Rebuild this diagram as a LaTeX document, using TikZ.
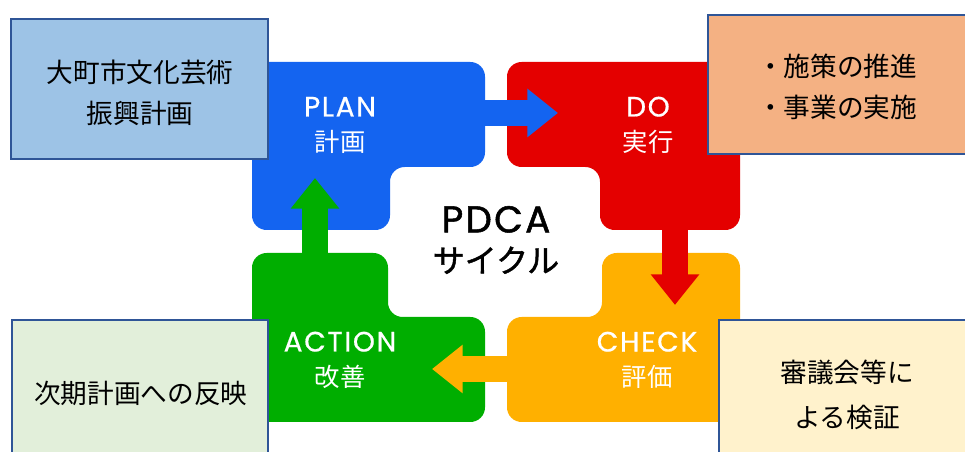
\documentclass[tikz,border=0pt]{standalone}
\usepackage{fontspec}
\setmainfont{Noto Sans CJK JP}
\newfontfamily\stagefont[LetterSpace=6,FakeBold=0.6]{Poppins}
\newfontfamily\cyclefont[LetterSpace=6,FakeBold=1.4]{Poppins}
\newfontfamily\cyclekana[FakeBold=1.4]{Noto Sans CJK JP}
\usepackage{tikz}
\usetikzlibrary{arrows.meta}

\definecolor{planblue}{RGB}{20,100,240}
\definecolor{dored}{RGB}{228,0,0}
\definecolor{checkorange}{RGB}{255,176,0}
\definecolor{actgreen}{RGB}{0,174,0}
\definecolor{noteedge}{RGB}{47,85,151}

\tikzset{
  stage/.style={rounded corners=11pt},
  stagetext/.style={text=white,align=center,font=\fontsize{19}{26}\selectfont},
  flow/.style={line width=20pt,-{Triangle[length=23pt,width=35pt]}},
  notebox/.style={draw=noteedge,line width=1.5pt},
  notetext/.style={align=center,font=\fontsize{20}{31}\selectfont}
}
\newcommand\stagename[1]{{\stagefont\fontsize{21}{26}\selectfont #1}}

\begin{document}
\begin{tikzpicture}[x=0.75pt,y=-0.75pt]
      % pixel grid of the reference, y downwards
      \clip (0,0) rectangle (965,452);
      \fill[white] (0,0) rectangle (965,452);
      % the four stages
      \fill[stage,planblue] (252,62)--(485,62)--(485,167)--(390,167)--(390,230)--(252,230)--cycle;
      \fill[stage,dored] (507,62)--(740,62)--(740,230)--(600,230)--(600,167)--(507,167)--cycle;
      \fill[stage,actgreen] (252,253)--(388,253)--(388,317)--(485,317)--(485,422)--(252,422)--cycle;
      \fill[stage,checkorange] (602,253)--(740,253)--(740,422)--(507,422)--(507,317)--(602,317)--cycle;
      \node[stagetext] (plan) at (340,125) {\stagename{PLAN}\\計画};
      \node[stagetext] (do) at (648,125) {\stagename{DO}\\実行};
      \node[stagetext] (check) at (647,360) {\stagename{CHECK}\\評価};
      \node[stagetext] (action) at (340,360) {\stagename{ACTION}\\改善};
      \node[align=center,font=\fontsize{24}{30}\selectfont\cyclekana] (cycle) at (496,240) {{\cyclefont\fontsize{28}{30}\selectfont PDCA}\\サイクル};
      % arrows between the stages
      \coordinate (plan-out) at (478,113);
      \coordinate (do-in) at (558,113);
      \coordinate (do-out) at (675,222);
      \coordinate (check-in) at (675,305);
      \coordinate (check-out) at (514,369);
      \coordinate (action-in) at (432,369);
      \coordinate (action-out) at (315,260);
      \coordinate (plan-in) at (315,178);
      \draw[flow,planblue] (plan-out) -- (do-in);
      \draw[flow,dored] (do-out) -- (check-in);
      \draw[flow,checkorange] (check-out) -- (action-in);
      \draw[flow,actgreen] (action-out) -- (plan-in);
      % notes
      \filldraw[notebox,fill={rgb,255:red,157;green,195;blue,230}] (11,19) rectangle (268,159);
      \filldraw[notebox,fill={rgb,255:red,244;green,177;blue,131}] (708,15) rectangle (975,154);
      \filldraw[notebox,fill={rgb,255:red,226;green,239;blue,218}] (12,320) rectangle (268,470);
      \filldraw[notebox,fill={rgb,255:red,255;green,242;blue,204}] (719,320) rectangle (975,470);
      \node[notetext] (plan-note) at (140,93) {大町市文化芸術\\振興計画};
      \node[notetext] (do-note) at (837,87) {・施策の推進\\・事業の実施};
      \node[notetext] (action-note) at (141,393) {次期計画への反映};
      \node[notetext,font=\fontsize{20}{34}\selectfont] (check-note) at (847,395) {審議会等に\\よる検証};
    \end{tikzpicture}
\end{document}
